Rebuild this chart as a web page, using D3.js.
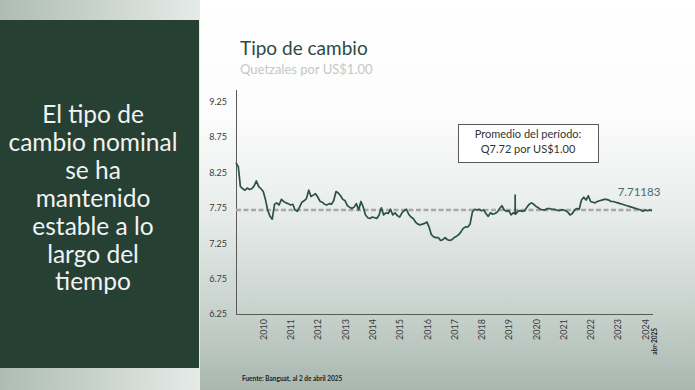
<!DOCTYPE html>
<html><head><meta charset="utf-8">
<script src="https://cdn.jsdelivr.net/npm/d3@7"></script>
<style>body{margin:0;background:#fff}svg{display:block}</style>
</head><body>
<svg id="c" width="695" height="390"></svg>
<script>
// ---- data ----
const startDate = "2010-01-01";   // first monthly observation
const endDate = "2025-04-02";     // last observation
// Quetzales per US$1.00, monthly readings Jan 2010 .. Apr 2025
const values = [
  8.39,8.33,8.05,8.02,8.00,8.03,8.01,8.02,8.06,8.13,8.05,8.02,
  7.98,7.86,7.72,7.63,7.59,7.80,7.82,7.79,7.87,7.84,7.82,7.81,
  7.79,7.80,7.72,7.70,7.76,7.83,7.85,7.88,8.00,7.91,7.93,7.95,
  7.90,7.84,7.83,7.80,7.79,7.81,7.80,7.85,7.98,7.96,7.92,7.87,
  7.85,7.78,7.76,7.74,7.76,7.81,7.72,7.84,7.76,7.65,7.61,7.60,
  7.62,7.61,7.60,7.65,7.75,7.65,7.68,7.67,7.73,7.65,7.68,7.64,
  7.62,7.68,7.71,7.73,7.66,7.62,7.60,7.55,7.52,7.51,7.52,7.53,
  7.55,7.47,7.37,7.34,7.33,7.33,7.29,7.30,7.33,7.30,7.29,7.30,
  7.33,7.35,7.37,7.41,7.46,7.48,7.48,7.52,7.69,7.73,7.72,7.73,
  7.71,7.72,7.67,7.63,7.68,7.66,7.67,7.69,7.74,7.78,7.72,7.70,
  7.71,7.65,7.68,7.66,7.70,7.71,7.70,7.71,7.76,7.80,7.82,7.80,
  7.77,7.75,7.73,7.72,7.72,7.74,7.74,7.73,7.73,7.72,7.71,7.72,
  7.72,7.71,7.69,7.65,7.67,7.72,7.74,7.73,7.86,7.90,7.86,7.92,
  7.84,7.83,7.82,7.84,7.85,7.86,7.87,7.87,7.86,7.84,7.84,7.83,
  7.82,7.81,7.80,7.79,7.78,7.77,7.76,7.75,7.74,7.73,7.72,7.70,
  7.72,7.71,7.72,7.71183
];
// short-lived daily movement (March 2020)
const spikeDates = ["2020-03-26","2020-03-27","2020-03-28"];
const spikeValues = [7.67, 7.93, 7.66];
const average = 7.72;
const lastValueLabel = "7.71183";
const yTicks = [6.25, 6.75, 7.25, 7.75, 8.25, 8.75, 9.25];
const yearLabels = ["2010","2011","2012","2013","2014","2015","2016","2017","2018","2019","2020","2021","2022","2023","2024"];
const lastLabel = "abr-2025";
const title = "Tipo de cambio";
const subtitle = "Quetzales por US$1.00";
const noteLines = ["Promedio del período:", "Q7.72 por US$1.00"];
const source = "Fuente: Banguat, al 2 de abril 2025";
const panelLines = ["El tipo de","cambio nominal","se ha","mantenido","estable a lo","largo del","tiempo"];

// ---- build table ----
const parse = d3.timeParse("%Y-%m-%d");
const start = parse(startDate), end = parse(endDate);
const series = values.map((v, i) => ({date: d3.timeMonth.offset(start, i), value: v}));
series[series.length - 1].date = end;
spikeDates.forEach((d, i) => series.push({date: parse(d), value: spikeValues[i]}));
series.sort((a, b) => a.date - b.date);

const svg = d3.select("#c");
const W = 695, H = 390;
const defs = svg.append("defs");
const g1 = defs.append("linearGradient").attr("id","bgR").attr("x1",0).attr("y1",0).attr("x2",0).attr("y2",1);
[[0,"#ffffff"],[0.3,"#fbfcfb"],[0.55,"#e7ecea"],[0.8,"#c8d2cd"],[1,"#a9b7b0"]].forEach(s=>g1.append("stop").attr("offset",s[0]).attr("stop-color",s[1]));
const g2 = defs.append("linearGradient").attr("id","bgL").attr("x1",0).attr("y1",0).attr("x2",1).attr("y2",0);
[[0,"#aebcb5"],[1,"#e6ebe8"]].forEach(s=>g2.append("stop").attr("offset",s[0]).attr("stop-color",s[1]));

svg.append("rect").attr("width",W).attr("height",H).attr("fill","url(#bgR)");
svg.append("rect").attr("width",200).attr("height",H).attr("fill","url(#bgL)");
svg.append("rect").attr("x",0).attr("y",20).attr("width",199).attr("height",348).attr("fill","#264034");

svg.append("g").selectAll("text").data(panelLines).join("text")
  .attr("x",93).attr("y",(d,i)=>123 + i*27.9)
  .attr("text-anchor","middle").attr("fill","#f2f2f2")
  .style("font-family","Lato, sans-serif").style("font-size","24.5px")
  .text(d=>d);

// ---- scales ----
const x = d3.scaleTime().domain([start, end]).range([236, 652]);
const y = d3.scaleLinear().domain([6.25, 9.25]).range([314, 101.7]);

// titles
svg.append("text").attr("x",240).attr("y",55).attr("fill","#2e4a45")
  .style("font-family","Lato, sans-serif").style("font-size","19px").text(title);
svg.append("text").attr("x",240).attr("y",74).attr("fill","#c6c8c7")
  .style("font-family","Lato, sans-serif").style("font-size","13px").text(subtitle);

// y axis
const yAxis = svg.append("g").attr("transform","translate(236,0)")
  .call(d3.axisLeft(y).tickValues(yTicks).tickSize(0).tickPadding(9).tickFormat(d3.format(".2f")));
yAxis.select(".domain").remove();
yAxis.selectAll("text").attr("fill","#3a3a3a").style("font-family","Lato, sans-serif").style("font-size","9px");
svg.append("line").attr("x1",236.5).attr("x2",236.5).attr("y1",90).attr("y2",314).attr("stroke","#5a5a5a").attr("stroke-width",1);

// x axis
const yearDates = yearLabels.map(l => new Date(+l, 11, 31));
const xAxis = svg.append("g").attr("transform","translate(0,314)")
  .call(d3.axisBottom(x).tickValues(yearDates).tickSize(0).tickSizeOuter(0).tickFormat((d,i)=>yearLabels[i]));
xAxis.select(".domain").attr("stroke","#5a5a5a").attr("d","M236,0.5H653");
xAxis.selectAll("text")
  .attr("transform","rotate(-90)").attr("x",-5).attr("y",0).attr("dy","0.35em")
  .style("text-anchor","end").attr("fill","#3a3a3a")
  .style("font-family","Lato, sans-serif").style("font-size","9px");
svg.append("text")
  .attr("transform",`translate(${x(end)+3},328) rotate(-90)`)
  .attr("dy","0.35em").style("text-anchor","end").attr("fill","#222")
  .style("font-family","Lato, sans-serif").style("font-size","6.5px").style("font-weight","bold")
  .text(lastLabel);

// average line
svg.append("line").attr("x1",x(start)).attr("x2",x(end))
  .attr("y1",y(average)).attr("y2",y(average))
  .attr("stroke","#a9a9a9").attr("stroke-width",2.6).attr("stroke-dasharray","5,2.5");

// series line
svg.append("path").datum(series)
  .attr("fill","none").attr("stroke","#2c5245").attr("stroke-width",1.7).attr("stroke-linejoin","round")
  .attr("d", d3.line().x(d=>x(d.date)).y(d=>y(d.value)));

// last value label
svg.append("text").attr("x",639).attr("y",196).attr("text-anchor","middle").attr("fill","#4a6c66")
  .style("font-family","Lato, sans-serif").style("font-size","11.5px").text(lastValueLabel);

// note box
const note = svg.append("g");
note.append("rect").attr("x",458.5).attr("y",124.5).attr("width",140).attr("height",38)
  .attr("fill","#fff").attr("stroke","#595959").attr("stroke-width",1);
note.selectAll("text").data(noteLines).join("text")
  .attr("x",528).attr("y",(d,i)=>138 + i*14.5).attr("text-anchor","middle").attr("fill","#333")
  .style("font-family","Lato, sans-serif").style("font-size","11px").text(d=>d);

// source
svg.append("text").attr("x",242).attr("y",381).attr("fill","#222")
  .style("font-family","Lato, sans-serif").style("font-size","6.5px").style("font-weight","bold").text(source);
</script>
</body></html>
